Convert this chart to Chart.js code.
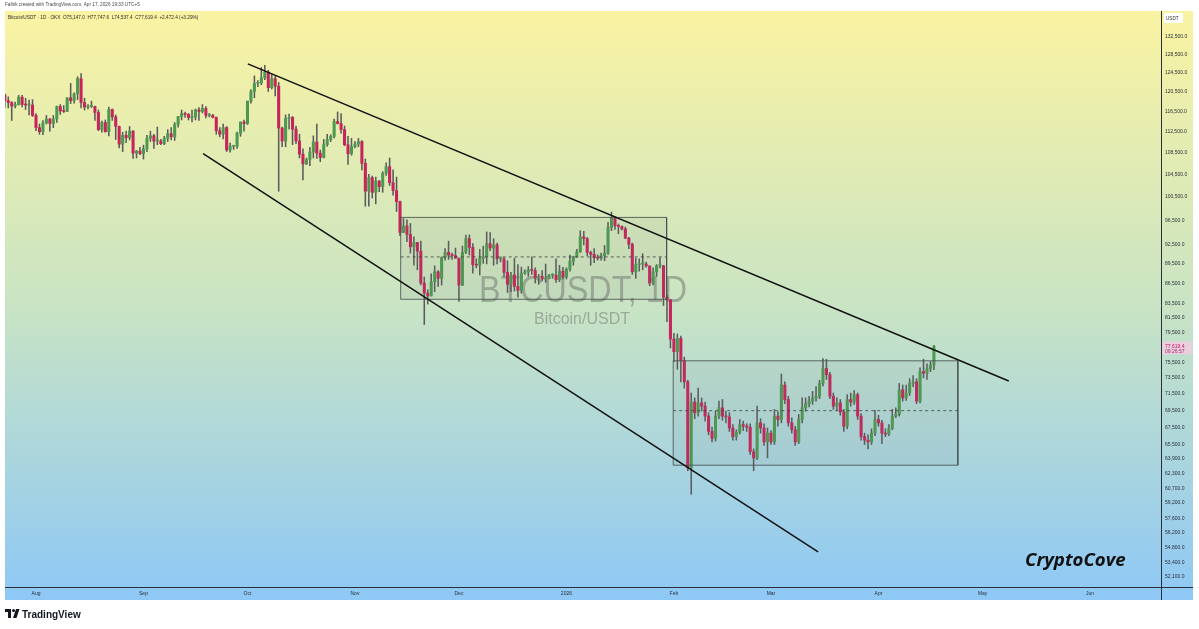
<!DOCTYPE html>
<html>
<head>
<meta charset="utf-8">
<title>BTCUSDT 1D</title>
<script src="https://cdn.jsdelivr.net/npm/chart.js@4.4.1/dist/chart.umd.min.js"></script>
<style>
  html, body { margin: 0; padding: 0; background: #ffffff; }
  #wrap { width: 1199px; height: 629px; }
</style>
</head>
<body>
<div id="wrap"><canvas id="btcChart" width="1199" height="629"></canvas></div>
<script>
// first candle is Jul 23 2025; x values are days counted from Aug 1 2025
const firstDay = -9;

const opens = [
  119900,118700,118300,117600,117900,119400,117900,117800,117800, // Jul
  115700,113300,112500,114200,115000,114100,115000,117500,116600,116500,119300,118700,120100,123300,118300,117400,117500,117500,116300,112900,114300,112500,116900,115400,113500,110100,111800,111300,112600,108400,108800, // Aug
  108300,109200,111200,111700,110700,110700,110200,111200,112100,111500,113900,115500,116100,115900,115300,115400,116800,116500,117100,115700,115700,115300,112700,112000,113300,109000,109700,109700,112200,114400, // Sep
  114100,118600,120600,122300,122400,123500,124700,121400,123300,121700,113200,110700,115100,115300,113000,110700,108200,106400,107200,108600,110500,108400,107600,110000,111000,111600,114500,114100,112900,110000,108300, // Oct
  109600,110100,110600,106500,101500,103900,101300,103300,102300,104700,105900,103000,101600,99700,94500,95600,94200,92200,92900,91500,86600,85100,84700,86800,88300,87300,90500,91300,90900,90800, // Nov
  90400,86300,91300,93500,92100,89400,89300,90400,90600,92700,92000,92500,90300,90300,88200,86400,87800,86100,85500,88100,88300,88600,88500,87400,87600,87200,87300,87800,87800,87100,88400, // Dec
  87500,88700,89900,90600,91400,93800,93500,91300,91000,90500,90400,90800,91200,95300,97000,95600,95500,95100,93600,92600,88300,89400,89500,89500,89200,86600,88300,89200,89200,84500,84100, // Jan
  78600,76900,78700,75700,73000,62900,70500,69200,70400,70000,68800,67000,66200,68800,69800,68800,68700,67400,66400,66900,67800,67600,67500,64700,64000,68000,67400,65800, // Feb
  66800,65800,68800,68400,72600,70800,68000,67200,65800,68400,69800,70300,70600,71000,71200,72800,74700,73900,71200,70000,70400,69300,67600,70800,70500,71400,68800,66400,66000,65800,66800, // Mar
  68400,68000,66800,66700,67400,68800,69000,72000,71000,71600,72800,73000,70600,74300,74100,74700,75147.0 // Apr
];
const highs = [
  120100,119500,118500,118400,119800,119800,119200,118800,118900,
  116100,114000,114700,115700,115100,115700,117600,117900,117700,119300,122300,120300,123700,124400,119200,117900,118600,117600,116800,114600,114800,117400,117000,115800,113600,112400,112600,113500,112700,108900,109500,
  109900,111800,112600,112000,113400,111000,111600,112900,113300,114300,115500,116800,116400,116100,116800,117000,117300,117900,117500,116100,115900,115400,113300,114000,113500,110300,109800,112400,114400,114800,
  118600,121000,123900,122900,125700,126200,125100,124200,123800,122500,113400,115800,116000,115500,113600,112000,109200,107500,109500,111700,114000,109000,111000,112000,111900,115000,116400,116100,113600,111600,111200,
  110600,111200,110800,107300,104500,104200,104000,103400,105000,106600,107500,105300,104000,99800,96800,96600,96000,93800,92900,93100,87500,85600,88000,89200,88500,90600,91900,93100,91200,92000,
  90400,92300,94100,94100,92700,90300,91800,92300,94600,94500,93500,92800,90600,90500,90000,88200,90400,89400,89000,88600,89100,90600,88900,87900,88500,89500,87900,88000,90300,89300,89000,
  88900,90900,90700,91800,94800,94700,93700,91500,91900,90900,91200,92400,96200,97900,97200,95900,95600,95400,93700,92800,90400,90300,91100,89800,89200,88900,89400,90500,89300,84800,84200,
  79400,79300,79000,76200,73200,71600,71000,72200,71000,70500,69200,67500,69400,70600,70800,69400,69200,67800,67200,68400,68200,67900,67900,65000,70000,68500,67900,67400,
  67100,69600,69300,74000,73000,71200,68600,67600,69000,71000,71000,71200,71800,72400,73200,76000,75900,74200,71600,71000,70800,69600,71400,71600,71900,71600,69100,66800,66600,67300,69500,
  68900,68300,67300,67800,69600,69800,72800,72600,72600,73400,73800,73400,74800,75900,75300,75600,77747.6
];
const lows = [
  117300,117200,114700,117200,117800,117400,116900,115800,115500,
  112700,112000,111900,114000,112600,113300,114300,115900,116300,116500,118100,118200,118900,117200,116800,117000,117300,114700,112700,112400,112400,111700,114700,111000,109400,108700,110400,110900,107400,107500,108100,
  107300,108700,110600,109300,110000,110000,110000,110600,110900,110800,113400,114800,115300,114800,114400,114800,114700,116200,115200,115400,115200,112000,111500,111100,108700,108600,109100,109300,111600,112600,
  113900,118200,119300,121600,122000,123100,120600,121100,119700,101500,109600,109600,113000,110000,110200,107500,103500,106300,106100,107500,107400,106800,107500,109700,110600,111300,114000,112200,109800,106300,108000,
  109400,109600,105300,98900,98900,100300,99300,101400,101300,104300,102500,100800,98000,94000,94500,93000,91200,89300,88600,86300,80600,83500,84700,85300,86100,86300,90100,90200,90200,90400,
  83900,86200,91100,90900,88100,88900,87800,89600,89500,91600,89300,89500,89800,87600,85200,85300,85400,84500,85100,87900,87600,87900,86600,86400,86900,86700,87200,87300,86700,86800,87200,
  87200,88400,89300,90500,91300,92500,90800,89300,89700,90100,90100,90000,91000,94800,95000,94300,94900,93500,91900,87900,87300,88400,88600,89000,86200,86300,87600,88900,83300,81000,77400,
  75600,74600,73000,72200,62600,60100,68500,68800,69400,68200,66600,65800,65900,68500,68300,68000,67000,66000,66000,66700,67100,67000,64400,62600,63800,66800,65400,64000,
  65500,65500,67600,68000,70300,67600,66800,65400,65600,68000,69400,69900,70200,70600,70900,72500,73300,70900,69600,69500,68900,67000,67300,70000,70200,68400,66000,65500,65000,65500,66500,
  67600,65600,66400,66500,67200,68600,68800,70600,70700,71300,72400,70300,70400,73500,73300,74300,74537.4
];
const closes = [
  118700,118300,117600,117900,119400,117900,117800,117800,115700,
  113300,112500,114200,115000,114100,115000,117500,116600,116500,119300,118700,120100,123300,118300,117400,117500,117500,116300,112900,114300,112500,116900,115400,113500,110100,111800,111300,112600,108400,108800,108300,
  109200,111200,111700,110700,110700,110200,111200,112100,111500,113900,115500,116100,115900,115300,115400,116800,116500,117100,115700,115700,115300,112700,112000,113300,109000,109700,109700,112200,114400,114100,
  118600,120600,122300,122400,123500,124700,121400,123300,121700,113200,110700,115100,115300,113000,110700,108200,106400,107200,108600,110500,108400,107600,110000,111000,111600,114500,114100,112900,110000,108300,109600,
  110100,110600,106500,101500,103900,101300,103300,102300,104700,105900,103000,101600,99700,94500,95600,94200,92200,92900,91500,86600,85100,84700,86800,88300,87300,90500,91300,90900,90800,90400,
  86300,91300,93500,92100,89400,89300,90400,90600,92700,92000,92500,90300,90300,88200,86400,87800,86100,85500,88100,88300,88600,88500,87400,87600,87200,87300,87800,87800,87100,88400,87500,
  88700,89900,90600,91400,93800,93500,91300,91000,90500,90400,90800,91200,95300,97000,95600,95500,95100,93600,92600,88300,89400,89500,89500,89200,86600,88300,89200,89200,84500,84100,78600,
  76900,78700,75700,73000,62900,70500,69200,70400,70000,68800,67000,66200,68800,69800,68800,68700,67400,66400,66900,67800,67600,67500,64700,64000,68000,67400,65800,66800,
  65800,68800,68400,72600,70800,68000,67200,65800,68400,69800,70300,70600,71000,71200,72800,74700,73900,71200,70000,70400,69300,67600,70800,70500,71400,68800,66400,66000,65800,66800,68400,
  68000,66800,66700,67400,68800,69000,72000,71000,71600,72800,73000,70600,74300,74100,74700,75147.0,77619.4
];

const monthDays = [0, 31, 61, 92, 122, 153, 184, 212, 243, 273, 304];
const monthLabels = ['Aug', 'Sep', 'Oct', 'Nov', 'Dec', '2026', 'Feb', 'Mar', 'Apr', 'May', 'Jun'];

const priceTicks = [132500, 128500, 124500, 120500, 116500, 112500, 108500, 104500, 100500, 96500,
  92500, 89500, 86500, 83500, 81500, 79500, 75500, 73500, 71500, 69500, 67500, 65500,
  63900, 62300, 60700, 59200, 57600, 56200, 54800, 53400, 52100];

// drawings: trend lines and the two ranges (day, price)
const upperTrendDays = [61.1, 280.6];
const upperTrendPrices = [126500, 73100];
const lowerTrendDays = [48.2, 225.6];
const lowerTrendPrices = [108300, 54400];
const rangeDays = [[105.2, 181.9], [183.8, 265.9]];
const rangePrices = [[97000, 84200], [75700, 63200]];

const UP = '#4c9a50';
const DOWN = '#c8245c';
const WICK = '#5b5b5b';
const BOX_FILL = 'rgba(110,120,120,0.09)';
const BOX_LINE = 'rgba(70,80,80,0.85)';

const fmt = v => v.toLocaleString('en-US', { minimumFractionDigits: 1, maximumFractionDigits: 1 });

const days = closes.map((c, i) => firstDay + i);
const bodyData = days.map((d, i) => ({ x: d, y: [opens[i], closes[i]] }));
const wickData = days.map((d, i) => ({ x: d, y: [lows[i], highs[i]] }));
const bodyColors = closes.map((c, i) => c >= opens[i] ? UP : DOWN);

const lineBase = { type: 'line', pointRadius: 0, tension: 0, fill: false, order: 1 };
const overlays = [];
rangeDays.forEach((rd, k) => {
  const [d1, d2] = rd;
  const [top, bot] = rangePrices[k];
  overlays.push({ ...lineBase, data: [{ x: d1, y: top }, { x: d2, y: top }], borderColor: 'rgba(0,0,0,0)', borderWidth: 0,
    fill: { target: '+1', above: BOX_FILL, below: BOX_FILL } });
  overlays.push({ ...lineBase, data: [{ x: d1, y: bot }, { x: d2, y: bot }], borderColor: 'rgba(0,0,0,0)', borderWidth: 0 });
  overlays.push({ ...lineBase, data: [{ x: d1, y: top }, { x: d2, y: top }, { x: d2, y: bot }, { x: d1, y: bot }, { x: d1, y: top }],
    borderColor: BOX_LINE, borderWidth: 1 });
  overlays.push({ ...lineBase, data: [{ x: d1, y: (top + bot) / 2 }, { x: d2, y: (top + bot) / 2 }],
    borderColor: 'rgba(60,60,60,0.8)', borderWidth: 1, borderDash: [3, 3] });
});
overlays.push({ ...lineBase, order: 0, borderColor: '#111111', borderWidth: 1.5,
  data: upperTrendDays.map((d, i) => ({ x: d, y: upperTrendPrices[i] })) });
overlays.push({ ...lineBase, order: 0, borderColor: '#111111', borderWidth: 1.5,
  data: lowerTrendDays.map((d, i) => ({ x: d, y: lowerTrendPrices[i] })) });

// background, header texts, watermark and frame
const decorPlugin = {
  id: 'decor',
  beforeDraw(chart) {
    const { ctx } = chart;
    ctx.save();
    const g = ctx.createLinearGradient(0, 11, 0, 600);
    g.addColorStop(0, '#faf3a2');
    g.addColorStop(0.5, '#c9e4c4');
    g.addColorStop(1, '#8ec8f6');
    ctx.fillStyle = g;
    ctx.fillRect(5, 11, 1188, 589);
    ctx.restore();
  },
  beforeDatasetsDraw(chart) {
    const { ctx } = chart;
    ctx.save();
    ctx.textAlign = 'center';
    ctx.fillStyle = 'rgba(90,90,90,0.42)';
    ctx.font = '37px "Liberation Sans", Arial, sans-serif';
    ctx.fillText('BTCUSDT, 1D', 583, 302, 208);
    ctx.font = '16px "Liberation Sans", Arial, sans-serif';
    ctx.fillText('Bitcoin/USDT', 582, 324);
    ctx.restore();
  },
  afterDraw(chart) {
    const { ctx } = chart;
    const last = closes.length - 1;
    ctx.save();
    // frame lines
    ctx.strokeStyle = '#2a2e39';
    ctx.lineWidth = 1;
    ctx.beginPath();
    ctx.moveTo(5, 587.5); ctx.lineTo(1193, 587.5);
    ctx.moveTo(1161.5, 11); ctx.lineTo(1161.5, 600);
    ctx.stroke();

    // header
    ctx.textBaseline = 'middle';
    ctx.font = '4.7px "Liberation Sans", Arial, sans-serif';
    ctx.fillStyle = '#4a4a4a';
    ctx.fillText('Falbik created with TradingView.com, Apr 17, 2026 19:33 UTC+5', 5, 4.5);
    const change = closes[last] - opens[last];
    const pct = change / opens[last] * 100;
    ctx.fillStyle = '#2b2b2b';
    ctx.fillText('Bitcoin/USDT \u00b7 1D \u00b7 OKX  O' + fmt(opens[last]) + '  H' + fmt(highs[last]) +
      '  L' + fmt(lows[last]) + '  C' + fmt(closes[last]) + '  +' + fmt(change) + ' (+' + pct.toFixed(2) + '%)', 8, 18);

    // currency tag on the price axis
    ctx.fillStyle = '#ffffff';
    ctx.fillRect(1164, 13, 19, 10);
    ctx.fillStyle = '#333333';
    ctx.font = '4.6px "Liberation Sans", Arial, sans-serif';
    ctx.fillText('USDT', 1166, 18.5);

    // last price label
    const py = chart.scales.y.getPixelForValue(closes[last]);
    ctx.fillStyle = 'rgba(236,205,222,0.95)';
    ctx.fillRect(1162, py - 5, 30, 13);
    ctx.fillStyle = '#c2185b';
    ctx.font = '5px "Liberation Sans", Arial, sans-serif';
    ctx.fillText(fmt(closes[last]), 1165, py);
    ctx.fillStyle = '#a03060';
    ctx.fillText('09:26:57', 1165, py + 5.5);

    // signature
    ctx.fillStyle = '#111111';
    ctx.font = 'italic bold 18.6px "Open Sans", "Liberation Sans", sans-serif';
    ctx.textBaseline = 'alphabetic';
    ctx.fillText('CryptoCove', 1025, 566);

    // TradingView logo
    ctx.fillStyle = '#131722';
    ctx.fillRect(5, 609, 6, 3);
    ctx.fillRect(8, 609, 3, 9);
    ctx.beginPath(); ctx.arc(13.5, 610.5, 1.5, 0, Math.PI * 2); ctx.fill();
    ctx.beginPath(); ctx.moveTo(16, 609); ctx.lineTo(19.5, 609); ctx.lineTo(16.5, 618); ctx.lineTo(13, 618); ctx.closePath(); ctx.fill();
    ctx.font = 'bold 10px "Liberation Sans", Arial, sans-serif';
    ctx.fillText('TradingView', 22, 618);
    ctx.restore();
  }
};

new Chart(document.getElementById('btcChart'), {
  type: 'bar',
  data: {
    datasets: [
      { data: bodyData, backgroundColor: bodyColors, borderWidth: 0, barThickness: 2.4, minBarLength: 1, grouped: false, order: 2 },
      { data: wickData, backgroundColor: WICK, borderWidth: 0, barThickness: 0.9, grouped: false, order: 3 },
      ...overlays
    ]
  },
  options: {
    responsive: false,
    animation: false,
    devicePixelRatio: 1,
    layout: { padding: { left: 5, top: 11, right: 6, bottom: 29 } },
    plugins: { legend: { display: false }, tooltip: { enabled: false } },
    scales: {
      x: {
        type: 'linear',
        offset: false,
        min: -8.94,
        max: 324.5,
        grid: { display: false, drawTicks: false },
        border: { display: false },
        afterBuildTicks: s => { s.ticks = monthDays.map(v => ({ value: v })); },
        afterFit: s => { s.height = 13; },
        ticks: {
          autoSkip: false, maxRotation: 0, padding: 4, color: '#2a2e39',
          font: { size: 5, family: '"Liberation Sans", Arial, sans-serif' },
          callback: v => monthLabels[monthDays.indexOf(v)] || ''
        }
      },
      y: {
        type: 'logarithmic',
        position: 'right',
        min: 51200,
        max: 138600,
        grid: { display: false, drawTicks: false },
        border: { display: false },
        afterBuildTicks: s => { s.ticks = priceTicks.map(v => ({ value: v })); },
        afterFit: s => { s.width = 32; },
        ticks: {
          autoSkip: false, padding: 4, color: '#2a2e39',
          font: { size: 5, family: '"Liberation Sans", Arial, sans-serif' },
          callback: v => fmt(v)
        }
      }
    }
  },
  plugins: [decorPlugin]
});
</script>
</body>
</html>
